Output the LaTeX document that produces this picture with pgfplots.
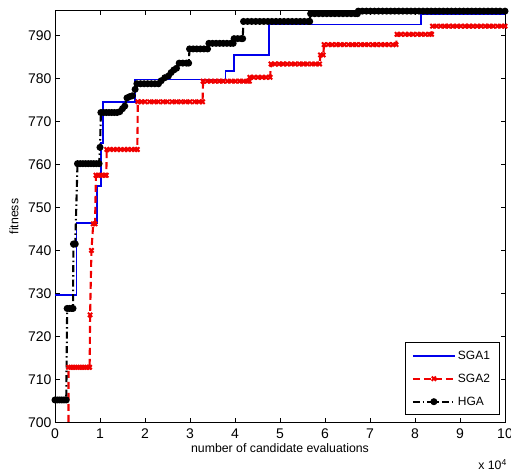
\documentclass[border=0pt]{standalone}
\usepackage{fontspec}
\setmainfont{Liberation Sans}
\usepackage{pgfplots}
\pgfplotsset{compat=1.18}
\definecolor{mblue}{RGB}{0,0,235}
\definecolor{mred}{RGB}{240,0,0}
\begin{document}
\begin{tikzpicture}
\begin{axis}[
  name=ax, scale only axis, width=450pt, height=411.6pt,
  xmin=0, xmax=10, ymin=700, ymax=795.8,
  xtick={0,1,...,10}, ytick={700,710,...,790},
  scaled x ticks=false,
  tick align=inside, major tick length=4.5pt,
  axis line style={line width=0.6pt},
  tick style={line width=0.6pt, black},
  tick label style={font=\fontsize{14}{16}\selectfont},
  /pgf/number format/assume math mode=true,
  xticklabel style={yshift=-3pt},
  xlabel={number of candidate evaluations},
  ylabel={fitness},
  label style={font=\fontsize{12.3}{14}\selectfont},
  xlabel style={at={(rel axis cs:0.5,0)}, anchor=center, yshift=-26pt},
  ylabel style={at={(axis description cs:-0.091,0.5)}, anchor=center},
  legend style={at={(0.987,0.018)}, anchor=south east, font=\fontsize{12}{14}\selectfont,
    draw=black, inner xsep=7pt, inner ysep=5.5pt, row sep=8pt,
    nodes={inner sep=2pt, text height=9pt, text depth=2pt}},
  legend cell align=left,
  legend image code/.code={\draw[mark repeat=2,mark phase=2,#1] plot coordinates {(0pt,0pt)(21pt,0pt)(42pt,0pt)};},
]
\addplot[draw=mblue, line width=1.8pt] coordinates {
(0,729.7)(0.48,729.7)(0.48,746.3)(0.93,746.3)(0.93,755)(1.02,755)(1.02,765)(1.06,765)(1.06,774.5)
(1.78,774.5)(1.78,779.8)(3.79,779.8)(3.79,781.8)(3.97,781.8)(3.97,785.5)(4.75,785.5)(4.75,792.6)
(8.13,792.6)(8.13,795.0)(10,795.0)};
\addlegendentry{SGA1}
\addplot[mred, line width=2.1pt, dash pattern=on 7pt off 4pt, mark=x, mark size=3pt, mark options={solid, line width=2pt}] coordinates {
(0.30,695)(0.30,712.8)(0.35,712.8)(0.40,712.8)(0.45,712.8)(0.50,712.8)(0.55,712.8)(0.60,712.8)(0.65,712.8)(0.70,712.8)(0.75,712.8)(0.77,712.8)
(0.78,725)(0.81,740)(0.85,746.2)(0.89,746.2)
(0.91,757.5)(0.96,757.5)(1.01,757.5)(1.06,757.5)(1.11,757.5)(1.14,757.5)
(1.15,763.5)(1.22,763.5)(1.30,763.5)(1.38,763.5)(1.46,763.5)(1.54,763.5)(1.62,763.5)(1.70,763.5)(1.78,763.5)(1.83,763.5)
(1.84,774.6)(1.92,774.6)(2.00,774.6)(2.10,774.6)(2.20,774.6)(2.30,774.6)(2.40,774.6)(2.50,774.6)(2.60,774.6)(2.70,774.6)(2.80,774.6)(2.90,774.6)(3.00,774.6)(3.10,774.6)(3.20,774.6)(3.28,774.6)
(3.29,779.4)(3.38,779.4)(3.47,779.4)(3.56,779.4)(3.65,779.4)(3.74,779.4)(3.83,779.4)(3.92,779.4)(4.01,779.4)(4.10,779.4)(4.19,779.4)(4.28,779.4)(4.32,779.4)
(4.33,780.3)(4.42,780.3)(4.51,780.3)(4.60,780.3)(4.69,780.3)(4.78,780.3)
(4.80,783.4)(4.89,783.4)(4.98,783.4)(5.07,783.4)(5.16,783.4)(5.25,783.4)(5.34,783.4)(5.43,783.4)(5.52,783.4)(5.61,783.4)(5.70,783.4)(5.79,783.4)(5.88,783.4)
(5.90,785.5)(5.96,785.5)
(5.98,787.9)(6.07,787.9)(6.16,787.9)(6.25,787.9)(6.34,787.9)(6.43,787.9)(6.52,787.9)(6.61,787.9)(6.70,787.9)(6.79,787.9)(6.88,787.9)(6.97,787.9)(7.06,787.9)(7.15,787.9)(7.24,787.9)(7.33,787.9)(7.42,787.9)(7.51,787.9)(7.58,787.9)
(7.60,790.3)(7.69,790.3)(7.78,790.3)(7.87,790.3)(7.96,790.3)(8.05,790.3)(8.14,790.3)(8.23,790.3)(8.32,790.3)(8.37,790.3)
(8.39,792.2)(8.48,792.2)(8.57,792.2)(8.66,792.2)(8.75,792.2)(8.84,792.2)(8.93,792.2)(9.02,792.2)(9.11,792.2)(9.20,792.2)(9.29,792.2)(9.38,792.2)(9.47,792.2)(9.56,792.2)(9.65,792.2)(9.74,792.2)(9.83,792.2)(9.92,792.2)(10.0,792.2)};
\addlegendentry{SGA2}
\addplot[black, line width=2.1pt, dash pattern=on 7pt off 3pt on 1.5pt off 3pt, mark=*, mark size=2.4pt, mark options={solid}] coordinates {
(0,705.2)(0.05,705.2)(0.10,705.2)(0.15,705.2)(0.20,705.2)(0.25,705.2)
(0.27,726.5)(0.32,726.5)(0.37,726.5)(0.40,726.5)
(0.41,741.5)(0.45,741.5)
(0.50,760.2)(0.56,760.2)(0.62,760.2)(0.68,760.2)(0.74,760.2)(0.80,760.2)(0.86,760.2)(0.92,760.2)(0.98,760.2)
(1.00,764)(1.02,772.1)(1.08,772.1)(1.14,772.1)(1.20,772.1)(1.26,772.1)(1.32,772.1)(1.38,772.1)(1.44,772.3)(1.50,773.0)(1.55,773.6)
(1.60,775.5)(1.66,775.8)(1.72,776.0)(1.78,777.5)
(1.82,778.8)(1.90,778.8)(1.98,778.8)(2.06,778.8)(2.14,778.8)(2.22,778.8)(2.30,778.8)
(2.36,779.5)(2.44,780.2)(2.52,780.6)(2.58,781.4)(2.64,782.0)(2.70,782.4)
(2.76,783.6)(2.84,783.6)(2.92,783.6)(2.97,783.6)
(2.99,786.9)(3.07,786.9)(3.15,786.9)(3.23,786.9)(3.31,786.9)(3.39,786.9)
(3.42,788.2)(3.50,788.2)(3.58,788.2)(3.66,788.2)(3.74,788.2)(3.82,788.2)(3.90,788.2)(3.96,788.2)
(3.98,789.3)(4.06,789.3)(4.14,789.3)(4.17,789.3)
(4.19,793.3)(4.28,793.3)(4.37,793.3)(4.46,793.3)(4.55,793.3)(4.64,793.3)(4.73,793.3)(4.82,793.3)(4.91,793.3)(5.00,793.3)(5.09,793.3)(5.18,793.3)(5.27,793.3)(5.36,793.3)(5.45,793.3)(5.54,793.3)(5.63,793.3)(5.66,793.3)
(5.68,795.1)(5.77,795.1)(5.86,795.1)(5.95,795.1)(6.04,795.1)(6.13,795.1)(6.22,795.1)(6.31,795.1)(6.40,795.1)(6.49,795.1)(6.58,795.1)(6.67,795.1)(6.72,795.1)
(6.74,795.7)(6.83,795.7)(6.92,795.7)(7.01,795.7)(7.10,795.7)(7.19,795.7)(7.28,795.7)(7.37,795.7)(7.46,795.7)(7.55,795.7)(7.64,795.7)(7.73,795.7)(7.82,795.7)(7.91,795.7)(8.00,795.7)(8.09,795.7)(8.18,795.7)(8.27,795.7)(8.36,795.7)(8.45,795.7)(8.54,795.7)(8.63,795.7)(8.72,795.7)(8.81,795.7)(8.90,795.7)(8.99,795.7)(9.08,795.7)(9.17,795.7)(9.26,795.7)(9.35,795.7)(9.44,795.7)(9.53,795.7)(9.62,795.7)(9.71,795.7)(9.80,795.7)(9.89,795.7)(10.0,795.7)};
\addlegendentry{HGA}
\end{axis}
\node[anchor=east, font=\fontsize{12.3}{14}\selectfont, inner sep=0pt] at ([xshift=2pt,yshift=-42.5pt]ax.south east) {x 10\textsuperscript{4}};
\pgfresetboundingbox
\path[use as bounding box] ([xshift=-55pt,yshift=-50.7pt]ax.south west) rectangle ([xshift=6pt,yshift=10.7pt]ax.north east);
\end{tikzpicture}
\end{document}
